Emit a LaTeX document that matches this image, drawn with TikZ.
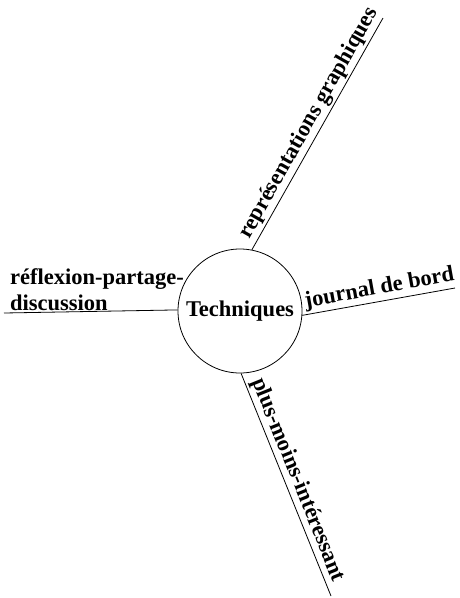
\documentclass[tikz,border=0pt]{standalone}
\usepackage{fontspec}
\setmainfont{Liberation Serif}
\begin{document}
\begin{tikzpicture}[x=1pt,y=-1pt,
  every node/.style={font=\bfseries\fontsize{22.5}{26}\selectfont},
  branch/.style={draw, line width=0.8pt},
  hub/.style={circle, draw, line width=0.8pt, minimum size=124pt, inner sep=0pt}]
\useasboundingbox[fill=white] (0,0) rectangle (459,598);
% central hub
\node[hub] (T) at (240,311) {Techniques};
% free ends of the four branches
\coordinate (ur) at (383,18);
\coordinate (rr) at (455,288);
\coordinate (ll) at (4,313);
\coordinate (dr) at (331,596);
% branches with their labels
\draw[branch] (T.79) -- node[sloped, above, pos=0.52, inner sep=2pt] (g) {représentations graphiques} (ur);
\draw[branch] (T.-4) -- node[sloped, above, pos=0.52, inner sep=2pt] (j) {journal de bord} (rr);
\draw[branch] (T.-89) -- node[sloped, above, pos=0.5, inner sep=2pt] (p) {plus-moins-intéressant} (dr);
\draw[branch] (T.179) -- (ll);
\node[anchor=south west, align=left, inner sep=2pt] (d) at ([xshift=4pt]ll) {réflexion-partage-\\discussion};
\end{tikzpicture}
\end{document}
